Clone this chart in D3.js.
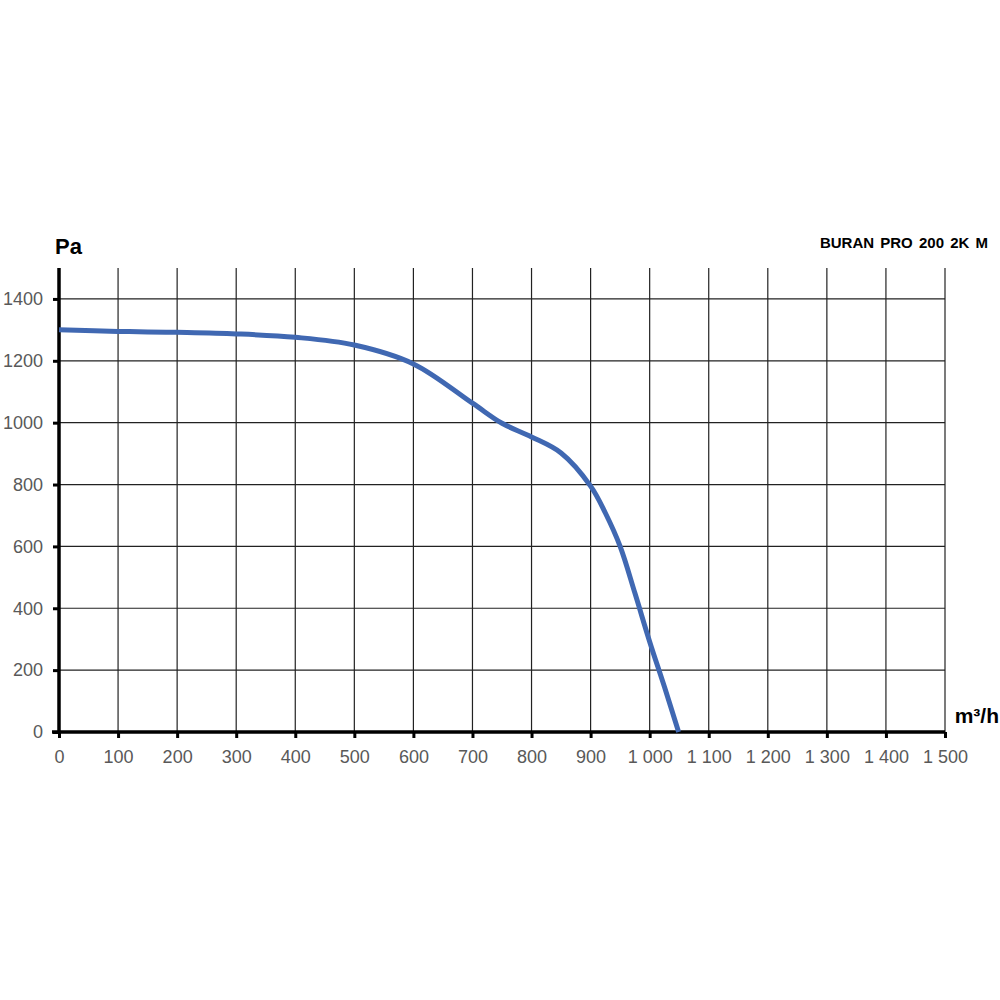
<!DOCTYPE html>
<html>
<head>
<meta charset="utf-8">
<script src="https://cdn.jsdelivr.net/npm/d3@7"></script>
<style>
  body { margin: 0; background: #fff; }
  svg { display: block; font-family: "Liberation Sans", Arial, sans-serif; }
</style>
</head>
<body>
<svg id="chart" width="1000" height="1000"></svg>
<script>
// airflow (m³/h) and pressure (Pa)
const flow = [0, 100, 200, 300, 400, 500, 600, 700, 750, 800, 850, 900, 925, 950, 975, 1000, 1025, 1049];
const pressure = [1300, 1295, 1292, 1287, 1276, 1251, 1190, 1063, 998, 954, 902, 795, 708, 600, 449, 292, 146, 0];

const xTicks = [0, 100, 200, 300, 400, 500, 600, 700, 800, 900, 1000, 1100, 1200, 1300, 1400, 1500];
const yTicks = [0, 200, 400, 600, 800, 1000, 1200, 1400];

const title = 'BURAN PRO 200 2K M';

const svg = d3.select('#chart');
const marginLeft = 59, marginTop = 268, width = 886, height = 464;

const x = d3.scaleLinear().domain([0, 1500]).range([0, width]);
const y = d3.scaleLinear().domain([0, 1500]).range([height, 0]);

const fmt = d3.formatLocale({ decimal: ',', thousands: ' ', grouping: [3], currency: ['', ''] }).format(',d');

const g = svg.append('g').attr('transform', 'translate(' + marginLeft + ',' + marginTop + ')');

// grid
g.append('g')
  .selectAll('line')
  .data(yTicks.slice(1))
  .enter()
  .append('line')
  .attr('x1', 0)
  .attr('x2', width)
  .attr('y1', (d) => y(d))
  .attr('y2', (d) => y(d))
  .attr('stroke', '#222')
  .attr('stroke-width', 1.2);

g.append('g')
  .selectAll('line')
  .data(xTicks.slice(1))
  .enter()
  .append('line')
  .attr('x1', (d) => x(d))
  .attr('x2', (d) => x(d))
  .attr('y1', 0)
  .attr('y2', height)
  .attr('stroke', '#222')
  .attr('stroke-width', 1.2);

// y axis
const yAxis = g.append('g')
  .call(d3.axisLeft(y).tickValues(yTicks).tickFormat(d3.format('d')).tickSize(6).tickPadding(10));
yAxis.select('.domain').attr('stroke', '#000').attr('stroke-width', 3.5)
  .attr('d', 'M0,0V' + height);
yAxis.selectAll('.tick line').attr('stroke', '#000').attr('stroke-width', 3);
yAxis.selectAll('.tick text')
  .attr('fill', '#595959')
  .attr('font-size', '18px')
  .attr('font-family', '"Liberation Sans", Arial, sans-serif');

// x axis
const xAxis = g.append('g')
  .attr('transform', 'translate(0,' + height + ')')
  .call(d3.axisBottom(x).tickValues(xTicks).tickFormat(fmt).tickSize(6).tickPadding(12));
xAxis.select('.domain').attr('stroke', '#000').attr('stroke-width', 3.5)
  .attr('d', 'M-7,0H' + width);
xAxis.selectAll('.tick line').attr('stroke', '#000').attr('stroke-width', 3);
xAxis.selectAll('.tick text')
  .attr('fill', '#595959')
  .attr('font-size', '18px')
  .attr('font-family', '"Liberation Sans", Arial, sans-serif');

// curve
const data = flow.map((f, i) => ({ f: f, p: pressure[i] }));
g.append('path')
  .datum(data)
  .attr('fill', 'none')
  .attr('stroke', '#4068b2')
  .attr('stroke-width', 5)
  .attr('stroke-linecap', 'butt')
  .attr('d', d3.line().x((d) => x(d.f)).y((d) => y(d.p)).curve(d3.curveCatmullRom.alpha(0.5)));

// labels
svg.append('text')
  .attr('x', 55)
  .attr('y', 254)
  .attr('font-size', '22px')
  .attr('font-weight', 'bold')
  .attr('fill', '#000')
  .text('Pa');

svg.append('text')
  .attr('x', 999)
  .attr('y', 723)
  .attr('text-anchor', 'end')
  .attr('font-size', '21px')
  .attr('font-weight', 'bold')
  .attr('fill', '#000')
  .text('m³/h');

svg.append('text')
  .attr('x', 988)
  .attr('y', 248)
  .attr('text-anchor', 'end')
  .attr('font-size', '15px')
  .attr('font-weight', 'bold')
  .attr('word-spacing', '2px')
  .attr('fill', '#000')
  .text(title);
</script>
</body>
</html>
